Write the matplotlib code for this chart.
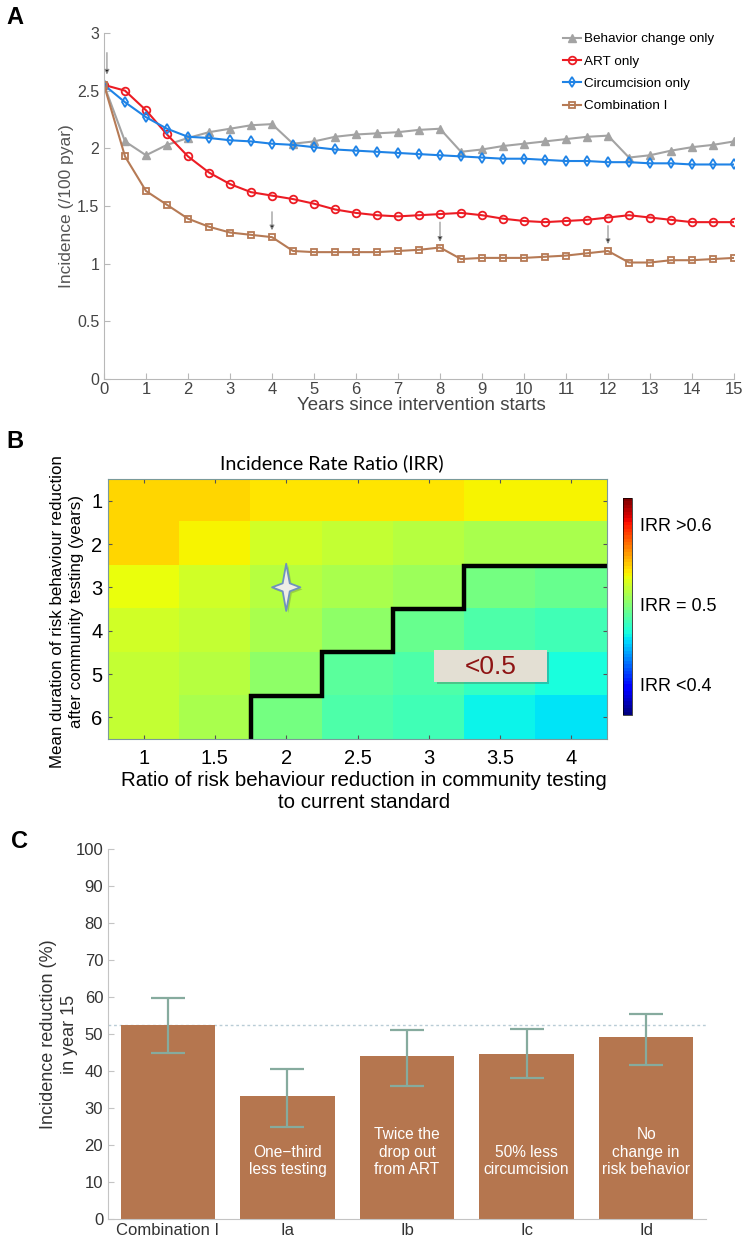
import numpy as np
import matplotlib
matplotlib.use("Agg")
from matplotlib import pyplot as plt
from matplotlib import font_manager
from matplotlib.path import Path
from matplotlib.patches import Rectangle
import matplotlib.patheffects as pe

# ---- panel A: incidence over time ----
years = np.arange(0, 15.5, 0.5)
behavior = [2.55, 2.06, 1.94, 2.03, 2.09, 2.14, 2.17, 2.20, 2.21, 2.04, 2.06, 2.10, 2.12, 2.13, 2.14, 2.16,
            2.17, 1.97, 1.99, 2.02, 2.04, 2.06, 2.08, 2.10, 2.11, 1.92, 1.94, 1.98, 2.01, 2.03, 2.06]
art_only = [2.55, 2.50, 2.33, 2.12, 1.93, 1.79, 1.69, 1.62, 1.59, 1.56, 1.52, 1.47, 1.44, 1.42, 1.41, 1.42,
            1.43, 1.44, 1.42, 1.39, 1.37, 1.36, 1.37, 1.38, 1.40, 1.42, 1.40, 1.38, 1.36, 1.36, 1.36]
circ_only = [2.55, 2.40, 2.27, 2.17, 2.10, 2.09, 2.07, 2.06, 2.04, 2.03, 2.01, 1.99, 1.98, 1.97, 1.96, 1.95,
             1.94, 1.93, 1.92, 1.91, 1.91, 1.90, 1.89, 1.89, 1.88, 1.88, 1.87, 1.87, 1.86, 1.86, 1.86]
combo = [2.55, 1.93, 1.63, 1.51, 1.39, 1.32, 1.27, 1.25, 1.23, 1.11, 1.10, 1.10, 1.10, 1.10, 1.11, 1.12,
         1.14, 1.04, 1.05, 1.05, 1.05, 1.06, 1.07, 1.09, 1.11, 1.01, 1.01, 1.03, 1.03, 1.04, 1.05]
series_names = ["Behavior change only", "ART only", "Circumcision only", "Combination I"]
arrow_years = [0.07, 4, 8, 12]
arrow_from = [2.83, 1.45, 1.36, 1.33]
arrow_to = [2.64, 1.29, 1.19, 1.17]

# ---- panel B: IRR heatmap ----
ratios = [1, 1.5, 2, 2.5, 3, 3.5, 4]
durations = [1, 2, 3, 4, 5, 6]
irr = np.array([
    [0.547, 0.547, 0.544, 0.544, 0.544, 0.542, 0.542],
    [0.549, 0.539, 0.529, 0.525, 0.520, 0.516, 0.513],
    [0.534, 0.529, 0.520, 0.516, 0.512, 0.498, 0.493],
    [0.529, 0.525, 0.516, 0.507, 0.493, 0.484, 0.480],
    [0.525, 0.520, 0.507, 0.489, 0.484, 0.475, 0.467],
    [0.525, 0.516, 0.498, 0.484, 0.480, 0.466, 0.460],
])
star_point = (2, 3)

# ---- panel C: incidence reduction ----
scenarios = ["Combination I", "Ia", "Ib", "Ic", "Id"]
reduction = [52.4, 33.2, 44.1, 44.5, 49.2]
ci_low = [45.0, 25.0, 35.9, 38.2, 41.5]
ci_high = [59.7, 40.6, 51.2, 51.3, 55.4]
notes = ["", "One\u2212third\nless testing", "Twice the\ndrop out\nfrom ART", "50% less\ncircumcision",
         "No\nchange in\nrisk behavior"]


def has_font(name):
    try:
        font_manager.findfont(name, fallback_to_default=False)
        return True
    except Exception:
        return False


base = "Liberation Sans"
narrow = "Liberation Sans Narrow" if has_font("Liberation Sans Narrow") else base
title_font = "Lato"
plt.rcParams["font.family"] = [base, "DejaVu Sans"]

W, H = 747, 1240
fig = plt.figure(figsize=(W / 100, H / 100), dpi=100)


def box(x0, y0, x1, y1):
    return [x0 / W, 1 - y1 / H, (x1 - x0) / W, (y1 - y0) / H]


# ================= A =================
axA = fig.add_axes(box(104, 33, 734, 379))
styles = [
    dict(color="#a3a3a3", marker="^", mfc="#a3a3a3", mec="#a3a3a3", ms=5.5),
    dict(color="#ec1c24", marker="o", mfc="none", mec="#ec1c24", ms=5.5, mew=1.3),
    dict(color="#1f83e6", marker="d", mfc="none", mec="#1f83e6", ms=5.5, mew=1.3),
    dict(color="#b67a55", marker="s", mfc="none", mec="#b67a55", ms=4.5, mew=1.3),
]
for ys, name, st in zip([behavior, art_only, circ_only, combo], series_names, styles):
    axA.plot(years, ys, lw=1.5, label=name, **st)
for yr, y0, y1 in zip(arrow_years, arrow_from, arrow_to):
    axA.annotate("", xy=(yr, y1), xytext=(yr, y0),
                 arrowprops=dict(arrowstyle="-|>", ec="#8a8a8a", fc="black", lw=0.8, mutation_scale=7,
                                 shrinkA=0, shrinkB=0))
axA.set_xlim(0, 15)
axA.set_ylim(0, 3)
axA.set_xticks(range(0, 16))
axA.set_yticks([0, 0.5, 1, 1.5, 2, 2.5, 3])
axA.set_yticklabels(["0", "0.5", "1", "1.5", "2", "2.5", "3"])
for sp in ["top", "right"]:
    axA.spines[sp].set_visible(False)
for sp in ["left", "bottom"]:
    axA.spines[sp].set_color("#b8b8b8")
axA.tick_params(direction="in", length=4, color="#b8b8b8", labelcolor="#444444", labelsize=12)
for lab in axA.get_xticklabels():
    lab.set_family(narrow)
for lab in axA.get_yticklabels():
    lab.set_fontsize(11.5)
axA.tick_params(axis="x", pad=2)
leg = axA.legend(loc="upper left", bbox_to_anchor=(0.72, 1.016), frameon=False, fontsize=9.7,
                 handlelength=1.3, handletextpad=0.25, labelspacing=0.74, borderaxespad=0)
fig.text(66 / W, 1 - 206 / H, "Incidence (/100 pyar)", rotation=90, ha="center", va="center",
         fontsize=12.5, color="#555555")
fig.text(421 / W, 1 - 405 / H, "Years since intervention starts", ha="center", va="center",
         fontsize=13.5, color="#444444", family=narrow)

# ================= B =================
axB = fig.add_axes(box(108, 479, 607, 739))
cmap = plt.get_cmap("jet", 64)
im = axB.imshow(irr, cmap=cmap, vmin=0.365, vmax=0.635, aspect="auto",
                extent=[ratios[0] - 0.25, ratios[-1] + 0.25, durations[-1] + 0.5, durations[0] - 0.5])
# step line along the IRR = 0.5 boundary
bottom = durations[-1] + 0.5
pts = []
for j, r in enumerate(ratios):
    below = np.where(irr[:, j] < 0.5)[0]
    b = durations[below[0]] - 0.5 if len(below) else bottom
    if b >= bottom and not pts:
        continue
    if not pts:
        pts.append((r - 0.25, bottom))
    pts.append((r - 0.25, b))
    pts.append((r + 0.25, b))
px, py = zip(*pts)
axB.plot(px, py, color="black", lw=3.2, solid_capstyle="butt", solid_joinstyle="miter")

star = Path([(0, 1), (0.15, 0.17), (0.6, 0), (0.15, -0.17), (0, -1), (-0.15, -0.17), (-0.6, 0),
             (-0.15, 0.17), (0, 1)], closed=True)
axB.plot(*star_point, marker=star, ms=34, mfc="#eeede6", mec="#6f92bd", mew=1.3,
         path_effects=[pe.SimplePatchShadow(offset=(1.5, -1.5), alpha=0.25), pe.Normal()])
# label box for the <0.5 region
lbl = Rectangle((3.04, 4.45), 0.79, 0.74, fc="#e3dfd3", ec="none", zorder=3)
lbl.set_path_effects([pe.withSimplePatchShadow(offset=(1.5, -1.5), alpha=0.3)])
axB.add_patch(lbl)
axB.text(3.435, 4.84, "<0.5", ha="center", va="center", fontsize=19, color="#8e1414", zorder=4)
axB.set_xticks(ratios)
axB.set_xticklabels(["1", "1.5", "2", "2.5", "3", "3.5", "4"])
axB.set_yticks(durations)
axB.tick_params(direction="in", length=3, top=True, right=True, labelsize=14.5, color="#555555")
axB.tick_params(axis="x", pad=7)
axB.tick_params(axis="y", pad=4)
for sp in axB.spines.values():
    sp.set_color("#7a9a9a")
    sp.set_linewidth(0.8)
fig.text(332 / W, 1 - 463 / H, "Incidence Rate Ratio (IRR)", ha="center", va="center",
         fontsize=14.2, family=[title_font, "DejaVu Sans"])
fig.text(67 / W, 1 - 612 / H, "Mean duration of risk behaviour reduction\nafter community testing (years)",
         rotation=90, ha="center", va="center", fontsize=12.2, linespacing=1.4)
fig.text(364 / W, 1 - 791 / H, "Ratio of risk behaviour reduction in community testing\nto current standard",
         ha="center", va="center", fontsize=14.8, linespacing=1.2)

cax = fig.add_axes(box(623, 498, 632, 715))
cb = fig.colorbar(im, cax=cax)
cb.set_ticks([])
cb.outline.set_linewidth(0.5)
for v, s in zip([0.6, 0.5, 0.4], ["IRR >0.6", "IRR = 0.5", "IRR <0.4"]):
    cax.text(1.9, v, s, transform=cax.get_yaxis_transform(), ha="left", va="center", fontsize=13)

# ================= C =================
axC = fig.add_axes(box(108, 849, 706, 1219))
xpos = np.arange(1, len(scenarios) + 1)
axC.axhline(reduction[0], ls=(0, (2, 2)), color="#b9ccd6", lw=1.0, zorder=0)
axC.bar(xpos, reduction, width=0.79, color="#b5764f", zorder=2)
axC.errorbar(xpos, reduction, yerr=[np.subtract(reduction, ci_low), np.subtract(ci_high, reduction)],
             fmt="none", ecolor="#86ab9e", elinewidth=1.6, capsize=12, capthick=1.6, zorder=3)
for x, note in zip(xpos, notes):
    if note:
        axC.text(x, 11.3, note, ha="center", va="bottom", color="white", fontsize=11.2,
                 family=narrow, linespacing=1.2, zorder=4)
axC.set_xlim(0.5, 5.5)
axC.set_ylim(0, 100)
axC.set_yticks(range(0, 101, 10))
axC.set_xticks(xpos)
axC.set_xticklabels(scenarios)
for sp in ["top", "right"]:
    axC.spines[sp].set_visible(False)
for sp in ["left", "bottom"]:
    axC.spines[sp].set_color("#c4c4c4")
axC.tick_params(direction="in", length=4, color="#c4c4c4", labelcolor="#333333", labelsize=12)
axC.tick_params(axis="x", length=0, pad=3)
for lab in axC.get_xticklabels() + axC.get_yticklabels():
    lab.set_family(narrow)
fig.text(59 / W, 1 - 1034 / H, "Incidence reduction (%)\nin year 15", rotation=90, ha="center",
         va="center", fontsize=13, color="#333333", linespacing=1.3)

# panel letters
for letter, (lx, ly) in zip("ABC", [(15, 18), (15, 442), (20, 841)]):
    fig.text(lx / W, 1 - ly / H, letter, ha="center", va="center", fontsize=17, fontweight="bold")

fig.savefig("out.png", dpi=100)
